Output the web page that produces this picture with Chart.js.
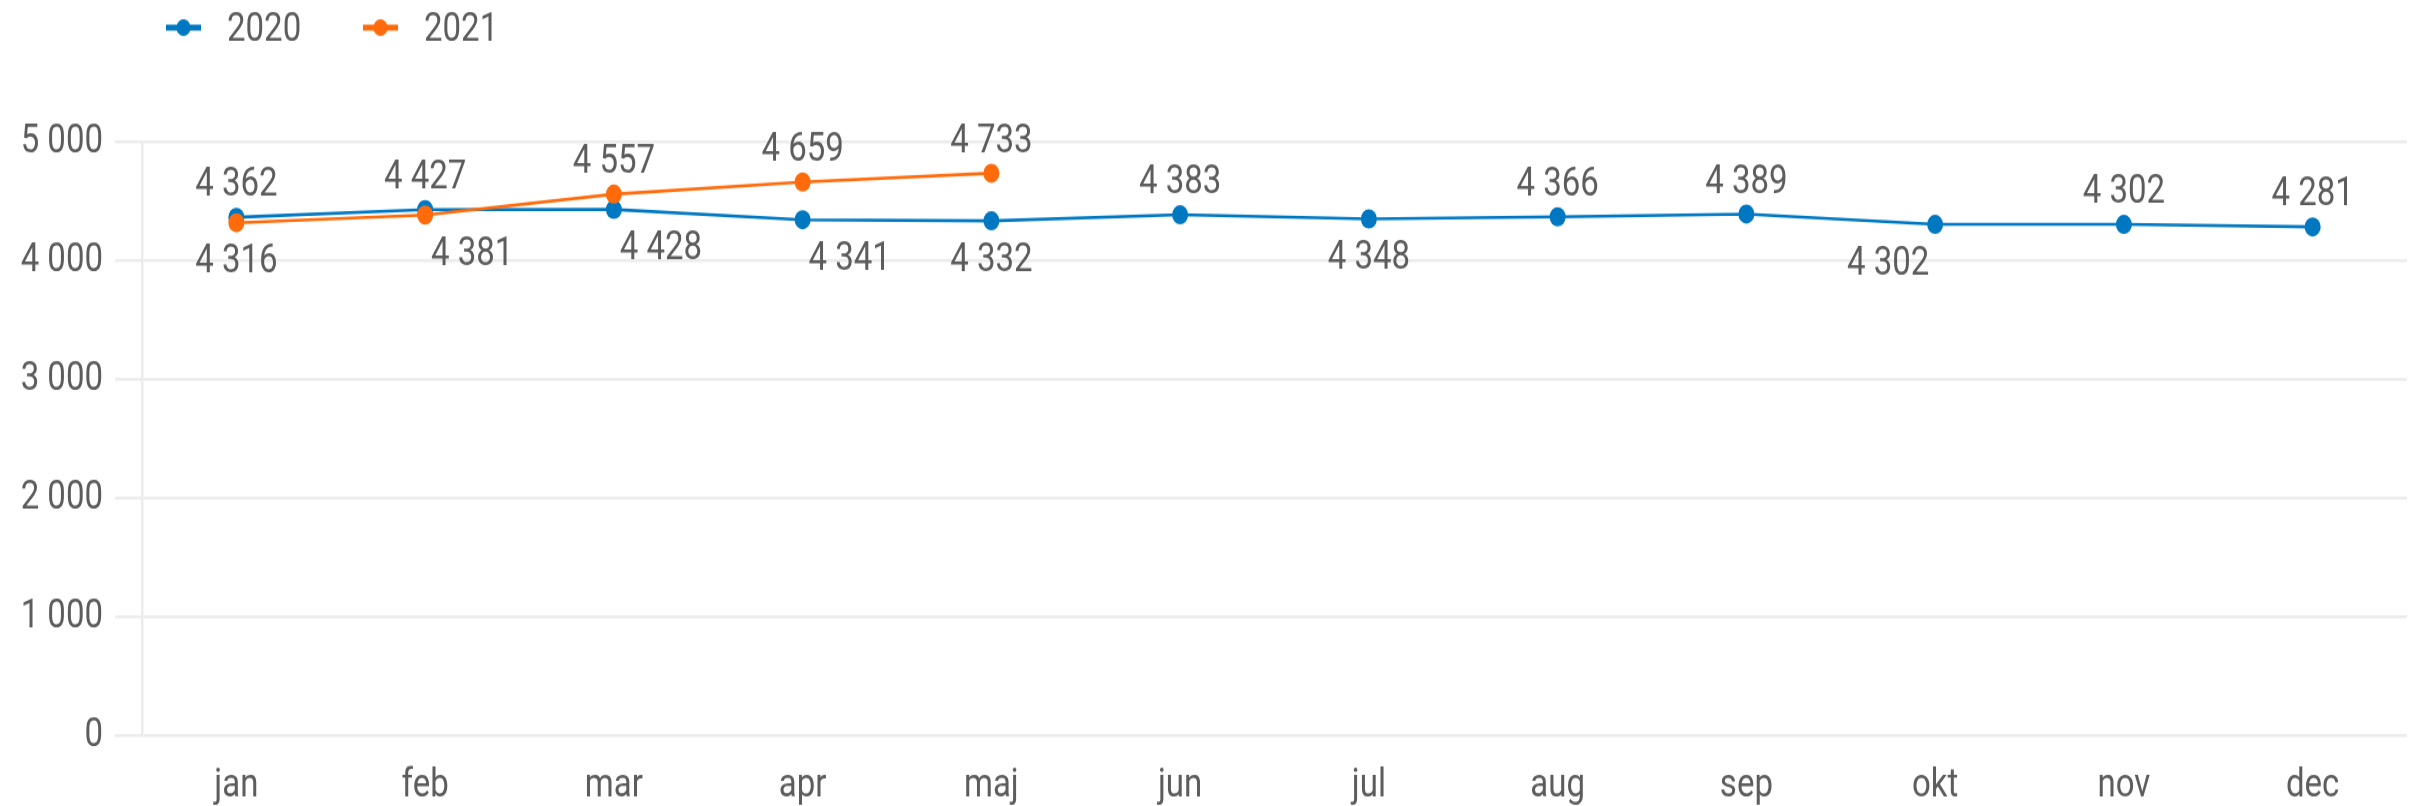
<!DOCTYPE html>
<html>
<head>
<meta charset="utf-8">
<script src="https://cdn.jsdelivr.net/npm/chart.js@4/dist/chart.umd.min.js"></script>
<style>
  html { overflow: hidden; }
  html, body { margin: 0; padding: 0; background: #fff; }
  body { width: 2417px; height: 806px; }
  /* the reference is stretched vertically, so draw at a lower height and stretch it;
     the canvas runs a little past the bottom of the window so labels are not cut */
  #wrap { width: 2417px; height: 700px; transform: scaleY(1.19940); transform-origin: 0 0; }
</style>
</head>
<body>
<div id="wrap"><canvas id="chart"></canvas></div>
<script>
const months = ['jan', 'feb', 'mar', 'apr', 'maj', 'jun', 'jul', 'aug', 'sep', 'okt', 'nov', 'dec'];
const seriesNames = ['2020', '2021'];
const values2020 = [4362, 4427, 4428, 4341, 4332, 4383, 4348, 4366, 4389, 4302, 4302, 4281];
const values2021 = [4316, 4381, 4557, 4659, 4733];
const yTicks = [0, 1000, 2000, 3000, 4000, 5000];

// where each value label sits relative to its point
const sides2020 = ['above', 'above', 'below-right', 'below-right', 'below', 'above', 'below', 'above', 'above', 'below-left', 'above', 'above'];
const sides2021 = ['below', 'below-right', 'above', 'above', 'above'];

const BLUE = '#0078c1';
const ORANGE = '#ff6b0a';
const TEXT = '#5c5c5c';
const GRID = '#ececec';
const FONT = 'Roboto';

Chart.defaults.font.family = FONT;
Chart.defaults.color = TEXT;

function fmt(n) {
    return String(n).replace(/\B(?=(\d{3})+(?!\d))/g, ' ');
}

const valueLabels = {
    id: 'valueLabels',
    afterDatasetsDraw(chart) {
        const ctx = chart.ctx;
        ctx.save();
        ctx.font = '33px ' + FONT;
        ctx.fillStyle = TEXT;
        ctx.textAlign = 'center';
        ctx.textBaseline = 'middle';
        chart.data.datasets.forEach((ds, di) => {
            const meta = chart.getDatasetMeta(di);
            meta.data.forEach((pt, i) => {
                const side = ds.labelSides[i] || 'above';
                let x = pt.x;
                let y = side === 'above' ? pt.y - 26 : pt.y + 33.5;
                if (side === 'below-right') x += 47;
                if (side === 'below-left') x -= 47;
                ctx.fillText(fmt(ds.data[i]), x, y);
            });
        });
        ctx.restore();
    }
};

// simple legend: line with a dot, then the series name
const lineLegend = {
    id: 'lineLegend',
    afterDraw(chart) {
        const ctx = chart.ctx;
        const iconX = [166, 363];
        const textX = [227, 424];
        const y = 23;
        ctx.save();
        chart.data.datasets.forEach((ds, i) => {
            ctx.strokeStyle = ds.borderColor;
            ctx.fillStyle = ds.borderColor;
            ctx.lineWidth = 5;
            ctx.beginPath();
            ctx.moveTo(iconX[i], y);
            ctx.lineTo(iconX[i] + 35, y);
            ctx.stroke();
            ctx.beginPath();
            ctx.arc(iconX[i] + 17.5, y, 7, 0, Math.PI * 2);
            ctx.fill();
            ctx.fillStyle = TEXT;
            ctx.font = '33px ' + FONT;
            ctx.textAlign = 'left';
            ctx.textBaseline = 'middle';
            ctx.fillText(ds.label, textX[i], y + 2.5);
        });
        ctx.restore();
    }
};

const ctx = document.getElementById('chart').getContext('2d');

new Chart(ctx, {
    type: 'line',
    data: {
        labels: months,
        datasets: [
            {
                label: seriesNames[0],
                data: values2020,
                labelSides: sides2020,
                borderColor: BLUE,
                backgroundColor: BLUE,
                pointBackgroundColor: BLUE,
                pointBorderColor: BLUE,
                borderWidth: 2.6,
                pointRadius: 8,
                pointBorderWidth: 0,
                tension: 0,
                order: 1
            },
            {
                label: seriesNames[1],
                data: values2021,
                labelSides: sides2021,
                borderColor: ORANGE,
                backgroundColor: ORANGE,
                pointBackgroundColor: ORANGE,
                pointBorderColor: ORANGE,
                borderWidth: 2.6,
                pointRadius: 8,
                pointBorderWidth: 0,
                tension: 0,
                order: 0
            }
        ]
    },
    options: {
        responsive: true,
        maintainAspectRatio: false,
        animation: false,
        events: [],
        layout: { padding: { top: 118, right: 10, left: 0, bottom: 0 } },
        plugins: {
            legend: { display: false },
            tooltip: { enabled: false }
        },
        scales: {
            x: {
                offset: true,
                grid: { display: false, drawTicks: false },
                border: { display: false },
                ticks: {
                    color: TEXT,
                    font: { size: 33 },
                    padding: 23,
                    autoSkip: false,
                    maxRotation: 0
                },
                afterFit: (scale) => { scale.height = 87.2; }
            },
            y: {
                min: yTicks[0],
                max: yTicks[yTicks.length - 1],
                afterBuildTicks: (scale) => { scale.ticks = yTicks.map(v => ({ value: v })); },
                grid: { color: GRID, lineWidth: 2.5, tickLength: 27, drawTicks: true },
                border: { display: true, color: GRID, width: 2.5 },
                ticks: {
                    color: TEXT,
                    font: { size: 33 },
                    padding: 12,
                    labelOffset: 1,
                    callback: (v) => fmt(v)
                },
                afterFit: (scale) => { scale.width = 142; }
            }
        }
    },
    plugins: [valueLabels, lineLegend]
});
</script>
</body>
</html>
